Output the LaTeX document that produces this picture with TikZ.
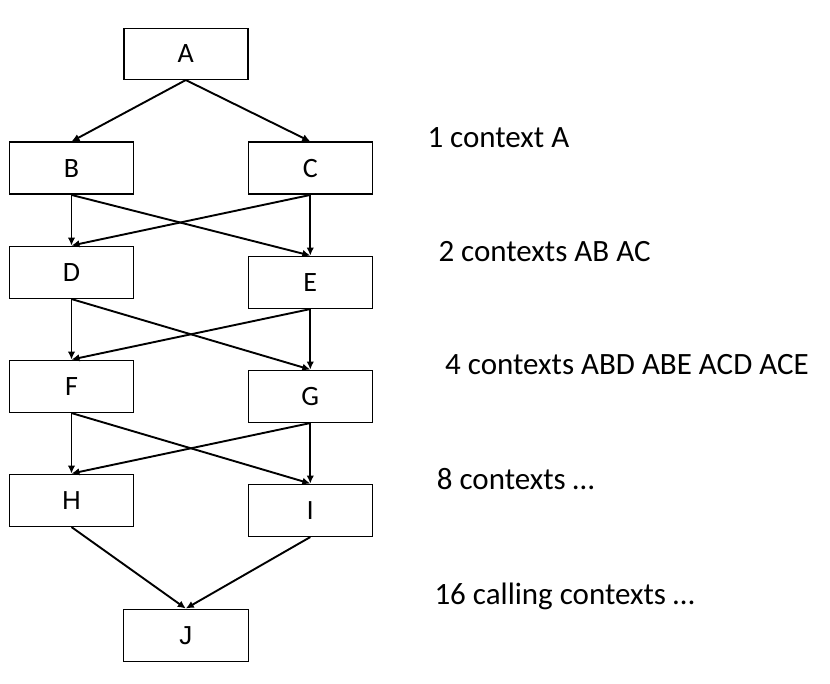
\documentclass[tikz,border=0pt]{standalone}
\usepackage{fontspec}
\setmainfont{Carlito}
\newfontfamily\arialf{Liberation Sans}
\newcommand\boxfont{\fontsize{28}{32}\selectfont}
\newcommand\boxfonta{\arialf\fontsize{26}{30}\selectfont}
\newcommand\notefont{\fontsize{31}{36}\selectfont}
\usetikzlibrary{arrows.meta}
\begin{document}
\begin{tikzpicture}[x=1pt,y=-1pt,
  boxn/.style={draw=black,line width=1.5pt,minimum width=124pt,minimum height=52pt,inner sep=0pt},
  conn/.style={line width=1.9pt,-{Latex[length=8pt,width=7.5pt]}},
  note/.style={anchor=base west,inner sep=0pt}]
\useasboundingbox (0,0) rectangle (830,684);
\node[boxn,minimum height=51pt] (A) at (185.8,53.8) {\boxfont A};
\node[boxn] (B) at (71.5,168.2) {\boxfont B};
\node[boxn] (C) at (310.3,168.2) {\boxfont C};
\node[boxn] (D) at (71.5,272.3) {\boxfont D};
\node[boxn] (E) at (310.3,282.3) {\boxfont E};
\node[boxn] (F) at (71.5,386.3) {\boxfont F};
\node[boxn] (G) at (310.3,396.3) {\boxfont G};
\node[boxn] (H) at (71.5,500.3) {\boxfonta H};
\node[boxn] (I) at (310.3,510.3) {\boxfonta I};
\node[boxn,minimum width=125pt] (J) at (185.8,635.3) {\boxfonta J};
\draw[conn] (A.south) -- (B.north);
\draw[conn] (A.south) -- (C.north);
\draw[conn] (B.south) -- (D.north);
\draw[conn] (B.south) -- (E.north);
\draw[conn] (C.south) -- (D.north);
\draw[conn] (C.south) -- (E.north);
\draw[conn] (D.south) -- (F.north);
\draw[conn] (D.south) -- (G.north);
\draw[conn] (E.south) -- (F.north);
\draw[conn] (E.south) -- (G.north);
\draw[conn] (F.south) -- (H.north);
\draw[conn] (F.south) -- (I.north);
\draw[conn] (G.south) -- (H.north);
\draw[conn] (G.south) -- (I.north);
\draw[conn] (H.south) -- (J.north);
\draw[conn] (I.south) -- (J.north);
\node[note] (n1) at (427.3,147.7) {\notefont 1 context A};
\node[note] (n2) at (438.3,261.7) {\notefont 2 contexts AB AC};
\node[note] (n3) at (445,375) {\notefont 4 contexts ABD ABE ACD ACE};
\node[note] (n4) at (436.7,489.3) {\notefont 8 contexts …};
\node[note] (n5) at (434.3,604) {\notefont 16 calling contexts …};
\end{tikzpicture}
\end{document}
